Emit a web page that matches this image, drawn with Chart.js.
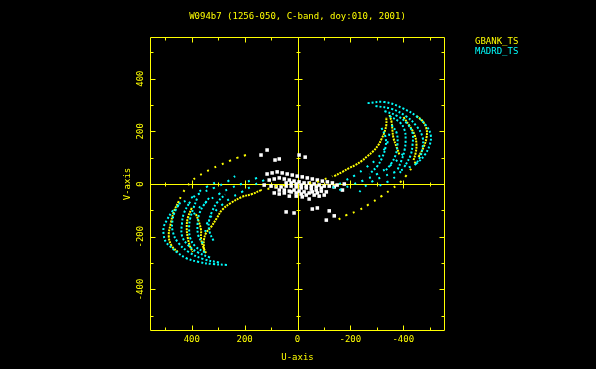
<!DOCTYPE html>
<html>
<head>
<meta charset="utf-8">
<script src="https://cdn.jsdelivr.net/npm/chart.js"></script>
<style>
  html, body { margin: 0; padding: 0; background: #000; }
  canvas { display: block; }
</style>
</head>
<body>
<canvas id="uvplot" width="596" height="369"></canvas>
<script>
// ---- data (u, v) ----
const titleText = 'W094b7 (1256-050, C-band, doy:010, 2001)';
const seriesNames = ['GBANK_TS', 'MADRD_TS'];
const tickLabels = [400, 200, 0, -200, -400];
const tickValues = [-500, -400, -300, -200, -100, 0, 100, 200, 300, 400, 500];

// GBANK_TS tracks, dense stretches
const gbankDense = [
  [[-139,30],[-170,46],[-196,61],[-219,72],[-242,87],[-265,106],[-287,125],[-306,148],[-318,171],[-329,197],[-336,224],[-336,254]],
  [[-450,258],[-473,239],[-488,209],[-488,175],[-477,140],[-462,110]],
  [[-401,254],[-424,220],[-443,186],[-450,152],[-447,118],[-439,91]],
  [[-348,262],[-356,235],[-359,205],[-363,175],[-375,140],[-386,110]],
  [[138,-23],[172,-38],[210,-49],[252,-72],[286,-99],[305,-129],[327,-163],[346,-186],[354,-213],[354,-239],[354,-258]],
  [[449,-65],[468,-106],[479,-148],[487,-197],[476,-235],[453,-258]],
  [[400,-91],[415,-129],[419,-167],[415,-205],[407,-235],[396,-258]],
  [[384,-114],[373,-144],[365,-175],[365,-205],[358,-235],[346,-262]]
];
// GBANK_TS tracks, sparse stretches
const gbankSparse = [
  [[-462,110],[-439,72],[-413,34],[-386,4],[-356,-19],[-318,-46],[-272,-76],[-227,-102],[-185,-118],[-150,-138]],
  [[-44,4],[-75,8],[-94,15],[-132,30]],
  [[195,110],[229,99],[259,87],[293,72],[327,57],[354,42],[381,27],[403,8],[422,-15],[438,-42],[449,-65]],
  [[47,-4],[77,-8],[96,-15],[138,-23]]
];
// MADRD_TS tracks, dense stretches
const madrdDense = [
  [[-265,307],[-329,311],[-397,288],[-454,254],[-488,220],[-504,186],[-500,148],[-481,110],[-454,80]],
  [[-295,296],[-356,285],[-409,258],[-450,220],[-473,178],[-473,137],[-462,99],[-439,65]],
  [[-329,277],[-378,258],[-416,228],[-435,194],[-435,148],[-428,110],[-409,72]],
  [[-348,258],[-386,235],[-405,205],[-409,167],[-405,129],[-394,91],[-378,53]],
  [[-356,224],[-375,194],[-378,148],[-371,110],[-356,80],[-329,46]],
  [[-318,213],[-333,178],[-333,140],[-321,102],[-302,68],[-272,38]],
  [[267,-307],[320,-304],[373,-296],[422,-281],[457,-258],[479,-239],[498,-220],[506,-194],[506,-163],[494,-137],[476,-106]],
  [[297,-298],[356,-285],[409,-260],[452,-222],[472,-180],[473,-139],[462,-101],[441,-67]],
  [[331,-279],[378,-259],[416,-230],[437,-196],[437,-150],[430,-112],[411,-74]],
  [[350,-260],[386,-237],[405,-207],[410,-169],[406,-131],[394,-93],[380,-55]],
  [[358,-226],[375,-196],[378,-150],[371,-112],[356,-82],[331,-48]],
  [[318,-215],[333,-180],[335,-142],[323,-104],[304,-70],[274,-40]]
];
// MADRD_TS tracks, sparse stretches
const madrdSparse = [
  [[-454,80],[-416,61],[-371,46],[-321,27],[-280,8],[-249,-15],[-234,-30]],
  [[-132,-15],[-177,11],[-219,34],[-257,61],[-295,91],[-321,121],[-340,156],[-348,194]],
  [[-158,-23],[-204,-4],[-253,15],[-302,38],[-348,68],[-386,99],[-409,129]],
  [[-409,72],[-378,34],[-340,8],[-291,-15]],
  [[476,-106],[449,-80],[411,-57],[365,-34],[316,-15],[267,8],[236,30]],
  [[126,15],[172,-8],[210,-30],[252,-53],[290,-83],[320,-114],[343,-152],[350,-190]],
  [[153,23],[202,4],[252,-15],[297,-38],[343,-68],[381,-99],[400,-133]],
  [[411,-74],[380,-36],[342,-10],[293,14]]
];
// other baselines (white)
const otherUV = [
  [115,38],[96,42],[77,46],[58,42],[39,38],[20,34],[1,30],[-18,27],[-37,23],[-56,19],[-75,15],[-94,11],[-113,8],[-132,4],[-150,-4],
  [107,15],[88,19],[69,23],[50,19],[31,15],[13,11],[-6,8],[-25,4],[-44,4],[-63,0],[-82,-4],[-101,-8],[-120,-8],[-139,-11],
  [100,-8],[81,-11],[62,-11],[43,-8],[24,-8],[5,-11],[-14,-15],[-33,-15],[-52,-19],[-71,-23],[-90,-27],[-109,-30],
  [88,-34],[69,-38],[50,-34],[31,-27],[13,-23],[-6,-27],[-25,-30],[-44,-34],[-63,-42],[-82,-46],[-101,-42],
  [31,-46],[5,-46],[-18,-49],[-44,-57],
  [43,4],[24,4],[5,0],[-14,-4],[-33,-8],[-52,-8],[-71,-11],[-90,-15],[24,-30],[5,-34],[-14,-38],[-33,-42],
  [-56,-30],[-75,-34],[69,-23],[50,-23],
  [138,110],[115,129],[85,91],[69,95],[-6,110],[-29,102],[43,-106],[13,-110],[-56,-95],[-75,-91],
  [-120,-102],[-139,-121],[-109,-137],[126,-4],[-177,0],[-170,-23]
];

const YELLOW = '#ffff00';
const CYAN = '#00ffff';

const toXY = pts => pts.map(([u, v]) => ({ x: u, y: v }));

function track(pts, color, dash, width) {
  return {
    data: toXY(pts),
    showLine: true,
    borderColor: color,
    backgroundColor: color,
    borderWidth: width,
    borderDash: dash,
    pointRadius: 0,
    tension: 0.4
  };
}

const datasets = [];
madrdSparse.forEach(t => datasets.push(track(t, CYAN, [2, 6], 2)));
gbankSparse.forEach(t => datasets.push(track(t, YELLOW, [2, 6], 2)));
madrdDense.forEach(t => datasets.push(track(t, CYAN, [2, 2], 2)));
gbankDense.forEach(t => datasets.push(track(t, YELLOW, [2, 1], 2)));
datasets.push({
  data: toXY(otherUV),
  pointStyle: 'rect',
  pointRadius: 2.5,
  pointBorderWidth: 0,
  backgroundColor: '#ffffff',
  borderColor: '#ffffff'
});

const FONT = '9px "DejaVu Sans Mono"';

const framePlugin = {
  id: 'framePlugin',
  beforeDatasetsDraw(chart) {
    const { ctx, chartArea: a, scales: { x, y } } = chart;
    ctx.save();
    ctx.strokeStyle = YELLOW;
    ctx.lineWidth = 1;
    const L = a.left + 0.5, R = a.right - 0.5, T = a.top + 0.5, B = a.bottom - 0.5;
    const x0 = Math.round(x.getPixelForValue(0)) + 0.5;
    const y0 = Math.round(y.getPixelForValue(0)) + 0.5;
    ctx.beginPath();
    ctx.rect(L, T, R - L, B - T);
    ctx.moveTo(L, y0); ctx.lineTo(R, y0);
    ctx.moveTo(x0, T); ctx.lineTo(x0, B);
    tickValues.forEach(t => {
      const len = t % 200 === 0 ? 5 : 3;
      const px = Math.round(x.getPixelForValue(t)) + 0.5;
      const py = Math.round(y.getPixelForValue(t)) + 0.5;
      ctx.moveTo(px, B); ctx.lineTo(px, B - len);
      ctx.moveTo(px, T); ctx.lineTo(px, T + len);
      ctx.moveTo(L, py); ctx.lineTo(L + len, py);
      ctx.moveTo(R, py); ctx.lineTo(R - len, py);
      if (t !== 0) {
        ctx.moveTo(px, y0 - len + 1); ctx.lineTo(px, y0 + len - 1);
        ctx.moveTo(x0 - len + 1, py); ctx.lineTo(x0 + len - 1, py);
      }
    });
    ctx.stroke();
    ctx.restore();
  },
  afterDraw(chart) {
    const { ctx, chartArea: a, scales: { x, y } } = chart;
    ctx.save();
    ctx.font = FONT;
    ctx.fillStyle = YELLOW;
    ctx.textAlign = 'center';
    ctx.textBaseline = 'middle';
    tickLabels.forEach(t => {
      ctx.fillText(String(t), x.getPixelForValue(t), a.bottom + 9);
    });
    tickLabels.forEach(t => {
      ctx.save();
      ctx.translate(a.left - 9, y.getPixelForValue(t));
      ctx.rotate(-Math.PI / 2);
      ctx.fillText(String(t), 0, 0);
      ctx.restore();
    });
    ctx.fillText('U-axis', x.getPixelForValue(0), 358);
    ctx.save();
    ctx.translate(128, y.getPixelForValue(0));
    ctx.rotate(-Math.PI / 2);
    ctx.fillText('V-axis', 0, 0);
    ctx.restore();
    ctx.fillText(titleText, x.getPixelForValue(0), 17);
    ctx.textAlign = 'left';
    ctx.fillText(seriesNames[0], 475, 42);
    ctx.fillStyle = CYAN;
    ctx.fillText(seriesNames[1], 475, 52);
    ctx.restore();
  }
};

new Chart(document.getElementById('uvplot').getContext('2d'), {
  type: 'scatter',
  data: { datasets },
  options: {
    responsive: false,
    animation: false,
    layout: { padding: { left: 150, right: 151, top: 37, bottom: 38 } },
    scales: {
      x: { type: 'linear', display: false, min: -558, max: 558, reverse: true },
      y: { type: 'linear', display: false, min: -558, max: 558 }
    },
    plugins: { legend: { display: false }, tooltip: { enabled: false } }
  },
  plugins: [framePlugin]
});
</script>
</body>
</html>
